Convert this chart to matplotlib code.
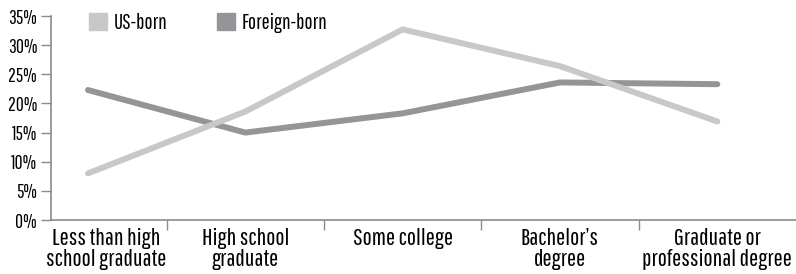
import matplotlib
matplotlib.use("Agg")
import matplotlib.pyplot as plt
from matplotlib.patches import Patch
from matplotlib.transforms import ScaledTranslation

# Share of adults by education level, US-born vs foreign-born
categories = ["Less than high\nschool graduate", "High school\ngraduate", "Some college",
              "Bachelor\u2019s\ndegree", "Graduate or\nprofessional degree"]
us_born = [8.0, 18.6, 32.7, 26.4, 16.9]
foreign_born = [22.3, 15.0, 18.3, 23.6, 23.3]
y_ticks = [0, 5, 10, 15, 20, 25, 30, 35]

US_COLOR = "#c8c8c9"
FB_COLOR = "#939598"
AXIS_COLOR = "#8a8a8a"

plt.rcParams["font.family"] = ["Pathway Gothic One", "Roboto Condensed", "DejaVu Sans"]
FS = 17.5


def main():
    fig = plt.figure(figsize=(7.96, 2.74), dpi=100)
    ax = fig.add_axes([51 / 796, 54 / 274, 745 / 796, 204 / 274])

    x = list(range(len(categories)))
    ax.plot(x, us_born, color=US_COLOR, lw=4.3, solid_capstyle="round", solid_joinstyle="round", zorder=3)
    ax.plot(x, foreign_born, color=FB_COLOR, lw=4.3, solid_capstyle="round", solid_joinstyle="round", zorder=2)

    ax.set_xlim(-0.235, 4.5)
    ax.set_ylim(0, 35)

    # y axis
    ax.set_yticks(y_ticks)
    ax.set_yticklabels([f"{v}%" for v in y_ticks])
    ax.tick_params(axis="y", direction="out", length=7, width=1, color=AXIS_COLOR,
                   labelsize=14, pad=3)

    # x axis: labels at the points, tick marks between categories
    ax.set_xticks(x)
    ax.set_xticklabels(categories, linespacing=1.0)
    ax.set_xticks([i + 0.5 for i in range(len(categories) - 1)], minor=True)
    ax.tick_params(axis="x", which="major", length=0, labelsize=FS, pad=6)
    ax.tick_params(axis="x", which="minor", direction="out", length=7, width=1, color=AXIS_COLOR)
    # first label sits a little right of its point in the original
    first = ax.get_xticklabels()[0]
    first.set_transform(first.get_transform() + ScaledTranslation(0.18, 0, fig.dpi_scale_trans))

    for side in ["top", "right"]:
        ax.spines[side].set_visible(False)
    for side in ["left", "bottom"]:
        ax.spines[side].set_color(AXIS_COLOR)
        ax.spines[side].set_linewidth(1.2)

    handles = [Patch(color=US_COLOR, label="US-born"), Patch(color=FB_COLOR, label="Foreign-born")]
    fig.legend(handles=handles, loc="upper left", bbox_to_anchor=(76 / 796, 1.0), ncol=2,
               frameon=False, fontsize=15.5, handlelength=0.85, handleheight=0.85,
               handletextpad=0.3, columnspacing=2.3, borderaxespad=0.2)

    fig.savefig("out.png", dpi=100)


if __name__ == "__main__":
    main()
